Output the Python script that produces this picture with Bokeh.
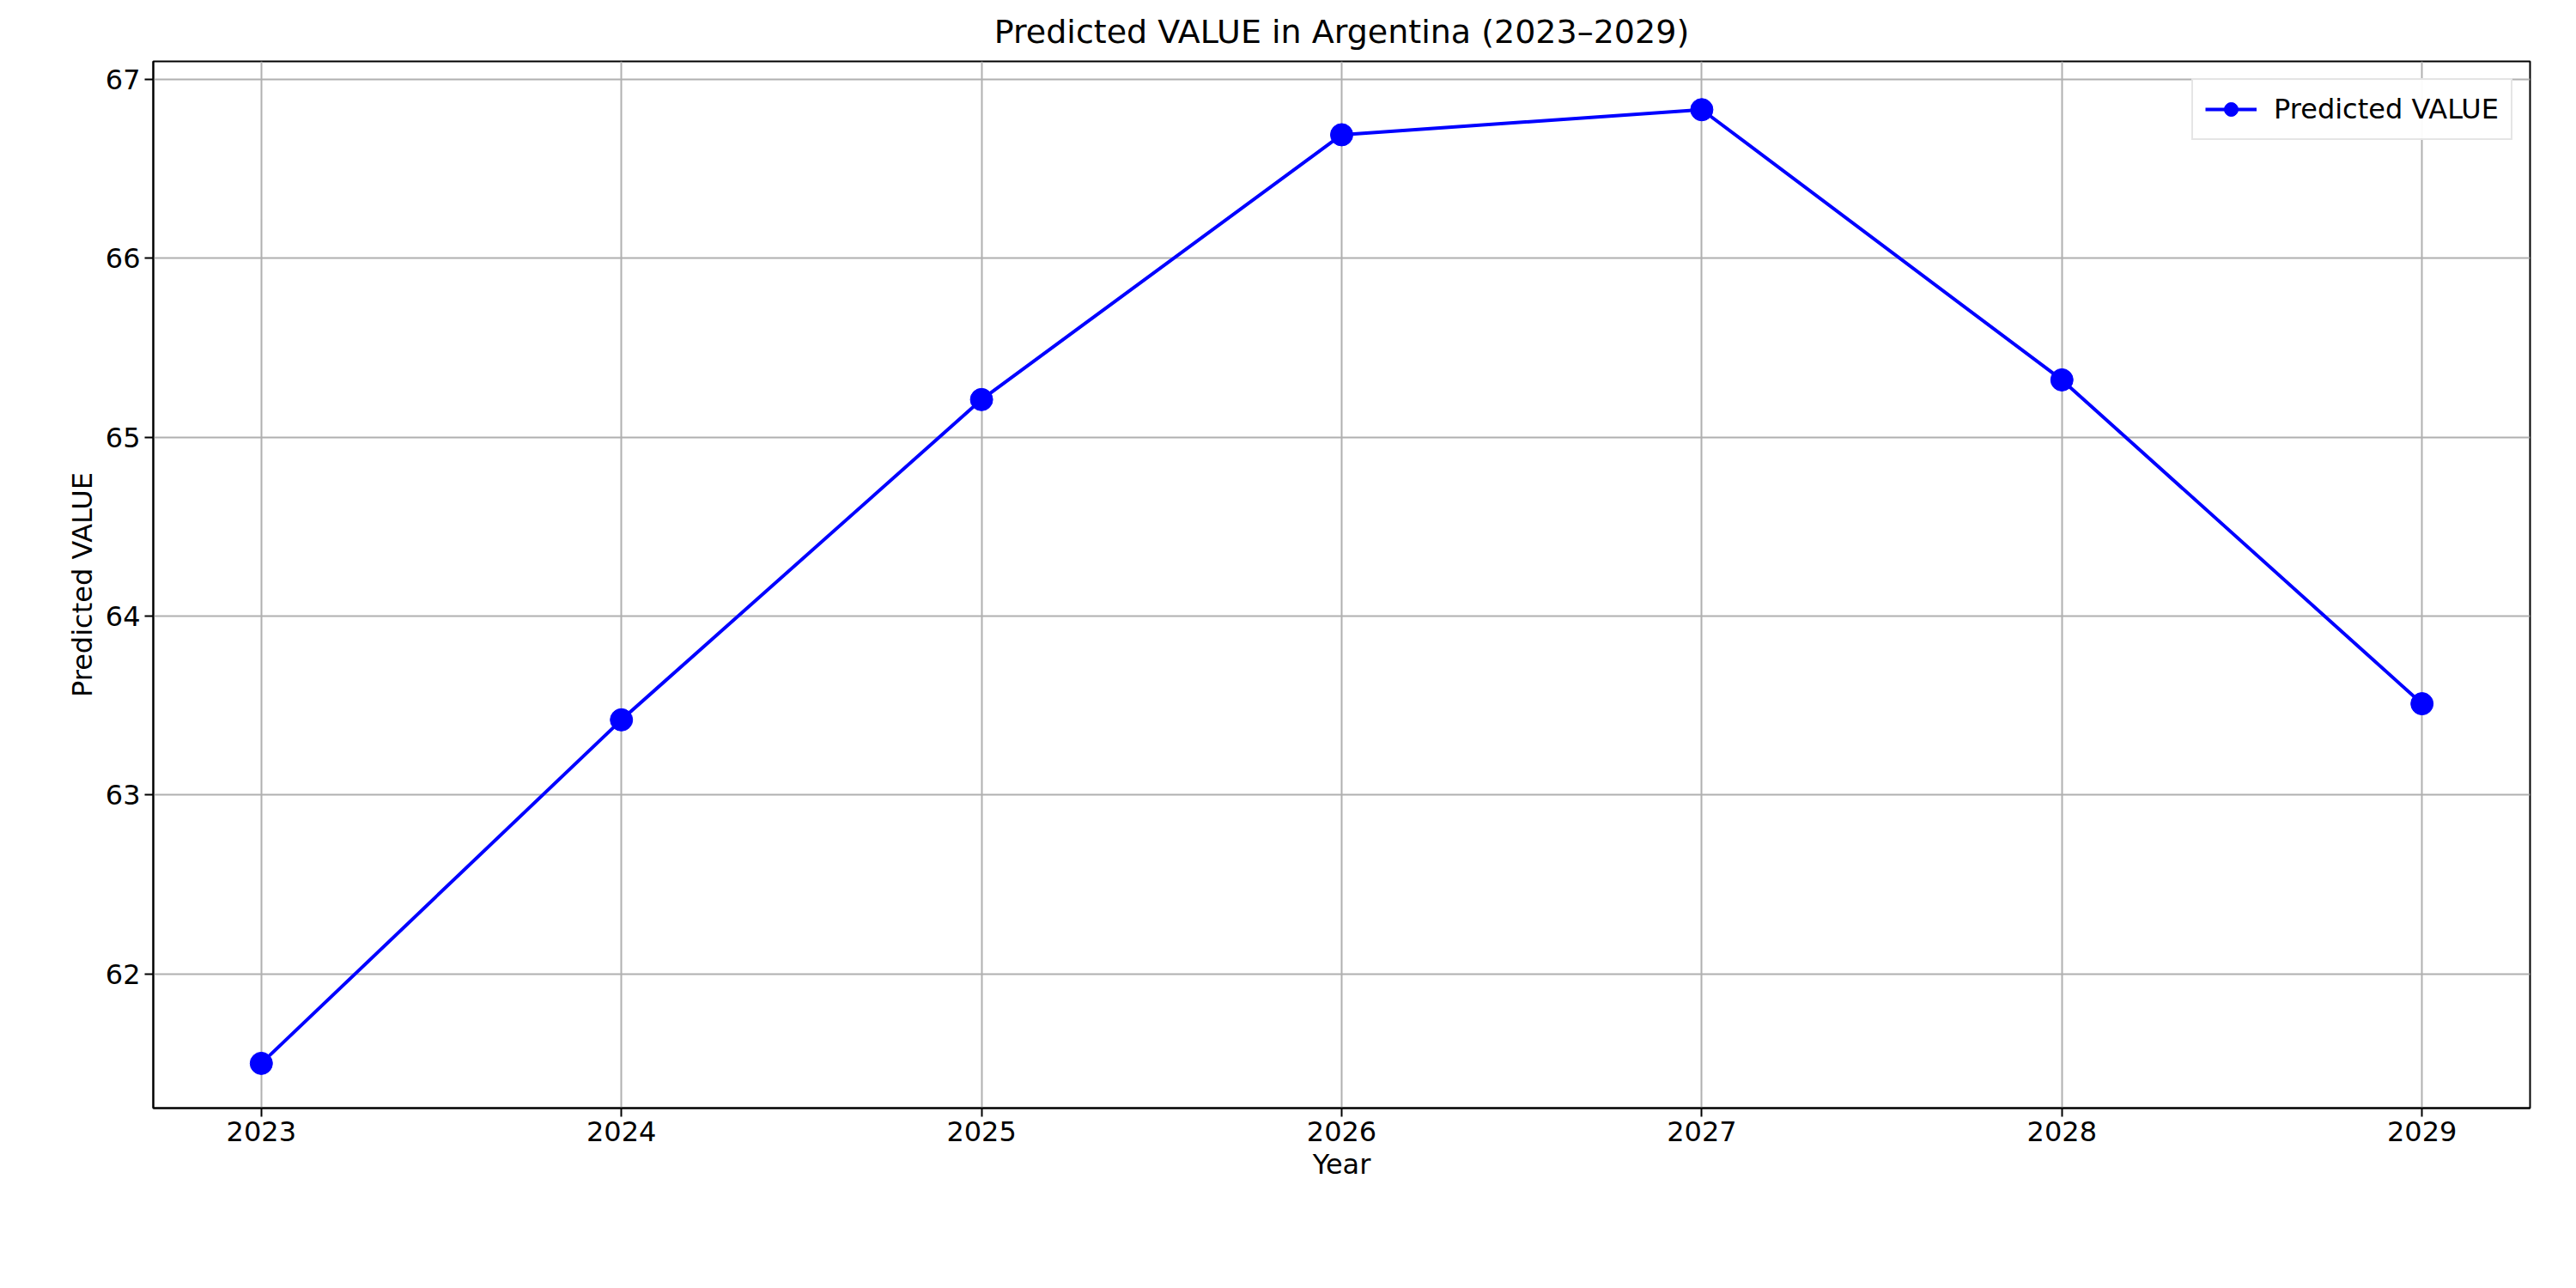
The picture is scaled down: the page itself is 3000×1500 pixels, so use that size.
from bokeh.plotting import figure
from bokeh.models import Range1d, Legend, LegendItem
from bokeh.embed import file_html
from bokeh.resources import INLINE

years = [2023, 2024, 2025, 2026, 2027, 2028, 2029]
values = [61.50, 63.42, 65.21, 66.69, 66.83, 65.32, 63.51]

p = figure(frame_width=2768, frame_height=1219, output_backend="svg", toolbar_location=None,
           title="Predicted VALUE in Argentina (2023\u20132029)",
           x_range=Range1d(2022.7, 2029.3), y_range=Range1d(61.25, 67.1),
           min_border_left=178, min_border_right=30, min_border_top=30, min_border_bottom=90)
p.title.align = "center"
p.title.text_font = "DejaVu Sans"
p.title.text_font_size = "38px"
p.title.text_font_style = "normal"
p.title.text_color = "black"
p.title.standoff = 25

ln = p.line(years, values, line_color="blue", line_width=4)
sc = p.scatter(years, values, size=26, fill_color="blue", line_color="blue")

p.xaxis.ticker = years
p.yaxis.ticker = [62, 63, 64, 65, 66, 67]
p.xaxis.axis_label = "Year"
p.yaxis.axis_label = "Predicted VALUE"
for ax in (p.xaxis, p.yaxis):
    ax.axis_label_text_font = "DejaVu Sans"
    ax.axis_label_text_font_size = "32px"
    ax.axis_label_text_font_style = "normal"
    ax.axis_label_text_color = "black"
    ax.major_label_text_font = "DejaVu Sans"
    ax.major_label_text_font_size = "32px"
    ax.major_label_text_color = "black"
    ax.minor_tick_line_color = None
    ax.major_tick_out = 10
    ax.major_tick_in = 0
    ax.axis_line_width = 2
    ax.major_tick_line_width = 2
p.xgrid.grid_line_color = "#b0b0b0"
p.ygrid.grid_line_color = "#b0b0b0"
p.xgrid.grid_line_width = 2
p.ygrid.grid_line_width = 2
p.outline_line_color = "black"
p.outline_line_width = 2

legend = Legend(items=[LegendItem(label="Predicted VALUE", renderers=[ln, sc])],
                location="top_right", label_text_font="DejaVu Sans",
                label_text_font_size="32px", label_text_color="black",
                glyph_width=60, glyph_height=40, label_standoff=20,
                border_line_color="#cccccc", border_line_width=2, padding=14, margin=20)
p.add_layout(legend)

open("out.html", "w").write(file_html(p, INLINE))
